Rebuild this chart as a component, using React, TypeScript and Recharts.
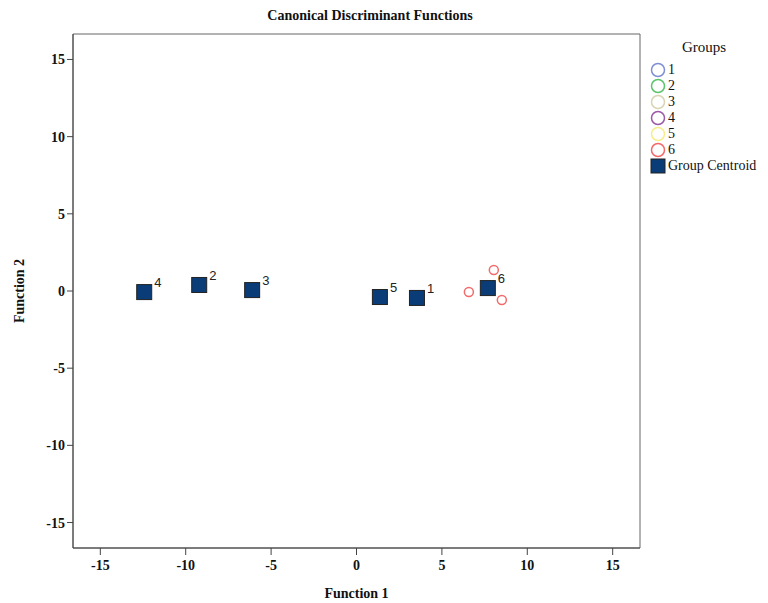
import React from "react"
import {
  ScatterChart, Scatter, XAxis, YAxis, ReferenceArea, LabelList,
} from "recharts"

const xTicks = [-15, -10, -5, 0, 5, 10, 15]
const yTicks = [-15, -10, -5, 0, 5, 10, 15]

const groupNames = ["1", "2", "3", "4", "5", "6"]
const groupColors = ["#7f8ed6", "#5cc46c", "#d8d4b4", "#9a5aa8", "#f6ee8a", "#f26a6a"]

// cases of group 6 (others sit under their centroids)
const group6X = [8.04, 6.58, 8.51]
const group6Y = [1.36, -0.07, -0.58]

const centroidLabels = ["1", "2", "3", "4", "5", "6"]
const centroidX = [3.54, -9.21, -6.11, -12.43, 1.37, 7.69]
const centroidY = [-0.45, 0.39, 0.06, -0.07, -0.39, 0.19]

const group6 = group6X.map((x, i) => ({ x, y: group6Y[i] }))
const centroids = centroidX.map((x, i) => ({ x, y: centroidY[i], label: centroidLabels[i] }))

const SERIF = "'Liberation Serif', 'DejaVu Serif', serif"

const Square = (props: any) => {
  const { cx, cy } = props
  return <rect x={cx - 7.5} y={cy - 7.5} width={15} height={15} fill="#0a3d78" stroke="#222" strokeWidth={1} />
}

const Ring = (props: any) => {
  const { cx, cy } = props
  return <circle cx={cx} cy={cy} r={4.5} fill="none" stroke="#f26a6a" strokeWidth={1.5} />
}

const CentroidLabel = (props: any) => {
  const { x, y, width, value } = props
  const cx = x + width / 2
  const cy = y + (props.height || 0) / 2
  return (
    <text x={cx + 10} y={cy - 5} fontSize={13} fontFamily="'Liberation Sans', Arial, sans-serif" style={{ fill: "#222" }}>
      {value}
    </text>
  )
}

const YTitle = (props: any) => {
  const vb = props.viewBox || {}
  const cy = (vb.y || 0) + (vb.height || 0) / 2
  return (
    <text x={24} y={cy} transform={`rotate(-90 24 ${cy})`} textAnchor="middle"
      fontSize={14} fontFamily={SERIF} fontWeight="bold" style={{ fill: "#111" }}>
      Function 2
    </text>
  )
}

const tickStyle = { fontSize: 14, fontFamily: SERIF, fontWeight: "bold", fill: "#111" }

function LegendBox() {
  return (
    <div style={{ position: "absolute", left: 650, top: 38, fontFamily: SERIF, fontSize: 14, color: "#111" }}>
      <div style={{ marginLeft: 32, fontSize: 15, marginBottom: 6, lineHeight: "18px" }}>Groups</div>
      {groupNames.map((g, i) => (
        <div key={g} style={{ display: "flex", alignItems: "center", height: 16 }}>
          <svg width={16} height={16}>
            <circle cx={8} cy={8} r={6.5} fill="none" stroke={groupColors[i]} strokeWidth={1.5} />
          </svg>
          <span style={{ marginLeft: 2 }}>{g}</span>
        </div>
      ))}
      <div style={{ display: "flex", alignItems: "center", height: 16 }}>
        <svg width={16} height={16}>
          <rect x={1} y={1} width={14} height={14} fill="#0a3d78" stroke="#222" />
        </svg>
        <span style={{ marginLeft: 2 }}>Group Centroid</span>
      </div>
    </div>
  )
}

export default function App() {
  return (
    <div style={{ position: "absolute", left: 0, top: 0, width: 768, height: 603, background: "#fff" }}>
      <div style={{
        position: "absolute", left: 0, width: 740, top: 8, textAlign: "center",
        fontFamily: SERIF, fontWeight: "bold", fontSize: 14, color: "#111",
      }}>
        Canonical Discriminant Functions
      </div>
      <ScatterChart width={768} height={603} margin={{ top: 34, right: 128, bottom: 25, left: 33 }}>
        <XAxis
          type="number"
          dataKey="x"
          domain={[-16.6, 16.6]}
          ticks={xTicks}
          allowDataOverflow
          height={30}
          axisLine={{ stroke: "#444" }}
          tickLine={{ stroke: "#444" }}
          tickSize={7}
          tickMargin={5}
          tick={tickStyle}
          label={{ value: "Function 1", position: "bottom", offset: 10, fontSize: 14, fontFamily: SERIF, fontWeight: "bold", fill: "#111" }}
        />
        <YAxis
          type="number"
          dataKey="y"
          domain={[-16.65, 16.65]}
          ticks={yTicks}
          allowDataOverflow
          width={40}
          axisLine={{ stroke: "#444" }}
          tickLine={{ stroke: "#444" }}
          tickSize={6}
          tick={tickStyle}
          label={<YTitle />}
        />
        <ReferenceArea x1={-16.6} x2={16.6} y1={-16.65} y2={16.65} fill="none" stroke="#666" strokeWidth={1} />
        <Scatter data={group6} shape={Ring} isAnimationActive={false} />
        <Scatter data={centroids} shape={Square} isAnimationActive={false}>
          <LabelList dataKey="label" content={CentroidLabel} />
        </Scatter>
      </ScatterChart>
      <LegendBox />
    </div>
  )
}
